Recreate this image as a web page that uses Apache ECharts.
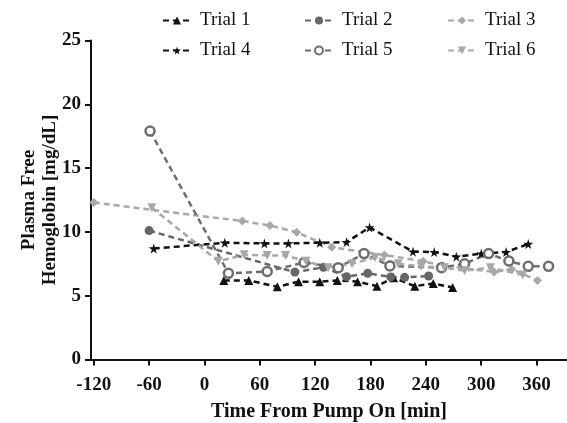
<!DOCTYPE html>
<html><head><meta charset="utf-8">
<script src="https://cdn.jsdelivr.net/npm/echarts@6/dist/echarts.min.js"></script>
<style>html,body{margin:0;padding:0;background:#fff}#c{width:567px;height:423px}</style>
</head><body><div id="c"></div>
<script>
const xTicks = [-120, -60, 0, 60, 120, 180, 240, 300, 360];
const names = ['Trial 1','Trial 2','Trial 3','Trial 4','Trial 5','Trial 6'];
const t1x = [21,48,79,102,125,144,166,187,205,228,248,269];
const t1y = [6.2,6.2,5.7,6.1,6.1,6.2,6.1,5.75,6.4,5.75,5.95,5.65];
const t2x = [-60,98,129,154,177,202,217,243];
const t2y = [10.1,6.85,7.22,6.49,6.75,6.47,6.44,6.54];
const t3x = [-120,41,71,100,138,195,237,258,282,314,333,361];
const t3y = [12.3,10.85,10.5,9.97,8.8,8.19,7.7,7.35,7.15,6.85,7.08,6.2];
const t4x = [-55,22,65,91,125,154,179,226,249,273,300,327,351];
const t4y = [8.7,9.15,9.1,9.1,9.15,9.2,10.35,8.45,8.42,8.06,8.3,8.42,9.05];
const t5x = [-59,26,68,108,145,173,201,257,282,308,330,351,373];
const t5y = [17.9,6.75,6.9,7.6,7.2,8.3,7.33,7.2,7.5,8.3,7.72,7.3,7.3];
const t6x = [-57,15,43,68,88,110,134,160,185,210,235,260,282,310,345];
const t6y = [11.9,7.7,8.2,8.15,8.15,7.7,7.2,7.5,8.0,7.5,7.3,7.2,6.96,7.2,6.62];

const star = 'path://M50,0 L61,35 L98,35 L68,57 L79,91 L50,70 L21,91 L32,57 L2,35 L39,35 Z';
const FONT = 'Liberation Serif';
const pairs = (xs, ys) => xs.map((x, i) => [x, ys[i]]);
const styles = [
  {color:'#111111', symbol:'triangle', size:9},
  {color:'#666666', symbol:'circle', size:9},
  {color:'#a8a8a8', symbol:'diamond', size:9},
  {color:'#111111', symbol:star, size:10},
  {color:'#6e6e6e', symbol:'circle', size:9},
  {color:'#a8a8a8', symbol:'triangle', size:9, rotate:180}
];
const datas = [pairs(t1x,t1y),pairs(t2x,t2y),pairs(t3x,t3y),pairs(t4x,t4y),pairs(t5x,t5y),pairs(t6x,t6y)];
const series = names.map((n, i) => ({
  name: n, type: 'line', data: datas[i],
  symbol: styles[i].symbol, symbolSize: styles[i].size, symbolRotate: styles[i].rotate || 0,
  showAllSymbol: true,
  lineStyle: {color: styles[i].color, width: 2.5, type: [6, 4]},
  itemStyle: {color: i === 4 ? '#ffffff' : styles[i].color, borderColor: styles[i].color, borderWidth: i === 4 ? 2.5 : 0},
  emphasis: {disabled: true}, animation: false
}));
const legPos = [[157,6],[299,6],[442,6],[157,36],[299,36],[442,36]];
const legends = names.map((n, i) => ({
  data: [n], left: legPos[i][0], top: legPos[i][1], itemWidth: 28, itemHeight: 10,
  textStyle: {fontFamily: FONT, fontSize: 19, color: '#111', padding: [0,0,0,4]},
  selectedMode: false
}));
const chart = echarts.init(document.getElementById('c'), null, {renderer: 'canvas'});
chart.setOption({
  animation: false,
  legend: legends,
  grid: {left: 91, right: 0, top: 40.5, bottom: 63.5, containLabel: false, outerBoundsMode: 'none'},
  xAxis: {
    type: 'value', min: -123, max: 393,
    name: 'Time From Pump On [min]', nameLocation: 'middle', nameGap: 42, nameMoveOverlap: false,
    nameTextStyle: {fontFamily: FONT, fontWeight: 'bold', fontSize: 20, color: '#111'},
    axisLine: {onZero: false, lineStyle: {color: '#111', width: 2}},
    axisTick: {customValues: xTicks, length: 6, lineStyle: {color: '#111', width: 2}},
    axisLabel: {customValues: xTicks, fontFamily: FONT, fontWeight: 'bold', fontSize: 19, color: '#111', margin: 16},
    splitLine: {show: false}
  },
  yAxis: {
    type: 'value', min: 0, max: 25, interval: 5,
    name: 'Plasma Free\nHemoglobin [mg/dL]', nameLocation: 'middle', nameGap: 30, nameRotate: 90, nameMoveOverlap: false,
    nameTextStyle: {fontFamily: FONT, fontWeight: 'bold', fontSize: 19, color: '#111', lineHeight: 21},
    axisLine: {show: true, onZero: false, lineStyle: {color: '#111', width: 2}},
    axisTick: {show: true, length: 6, lineStyle: {color: '#111', width: 2}},
    axisLabel: {fontFamily: FONT, fontWeight: 'bold', fontSize: 19, color: '#111', margin: 10},
    splitLine: {show: false}
  },
  series: series
});
</script></body></html>
